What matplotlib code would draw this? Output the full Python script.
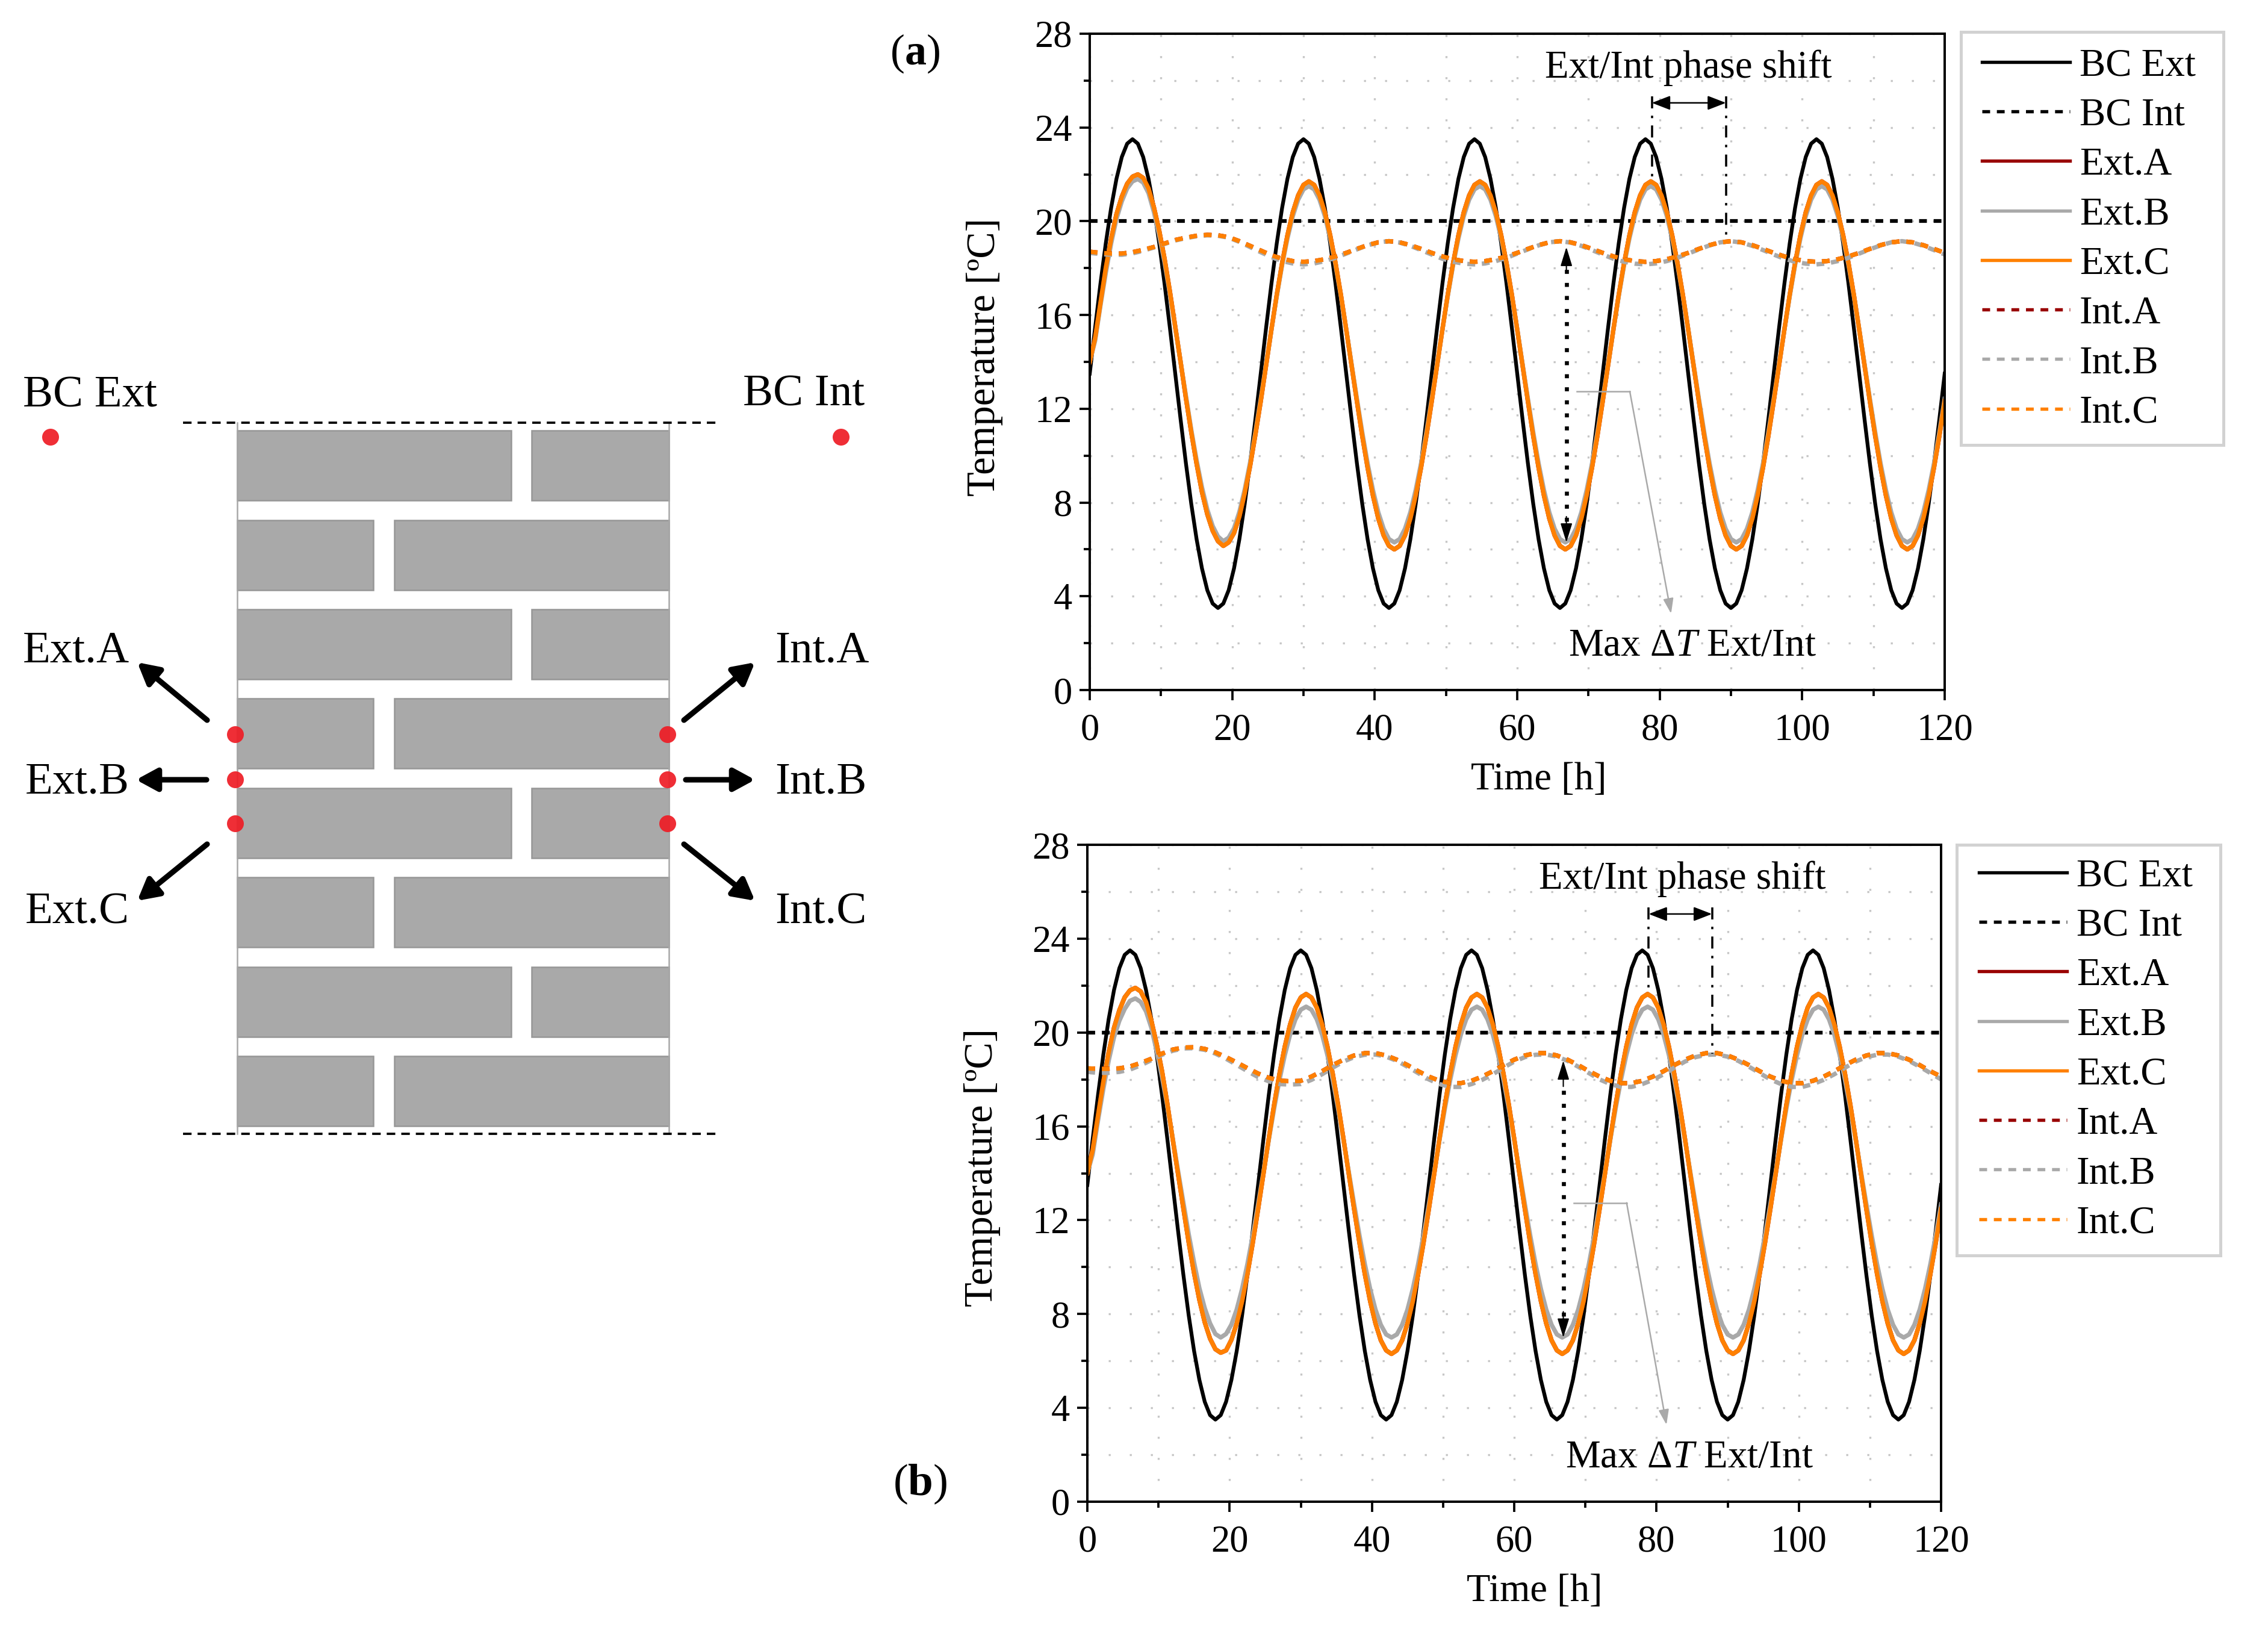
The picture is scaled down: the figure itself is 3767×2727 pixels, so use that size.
import numpy as np
import matplotlib
matplotlib.use('Agg')
import matplotlib.pyplot as plt
from matplotlib.patches import Rectangle, Circle

plt.rcParams['font.family'] = ['Liberation Serif', 'DejaVu Serif']
plt.rcParams['mathtext.fontset'] = 'custom'
plt.rcParams['mathtext.rm'] = 'Liberation Serif'
plt.rcParams['mathtext.it'] = 'Liberation Serif:italic'
plt.rcParams['mathtext.bf'] = 'Liberation Serif:bold'
plt.rcParams['lines.scale_dashes'] = False

W, H = 3767, 2727

# values [degC]
# outer and wall-surface curves every 0.75 h, inner curves every 1.5 h
time_ext = np.arange(0, 120.1, 0.75)
time_int = np.arange(0, 120.1, 1.5)
time_lim = [0, 120]
bc_int = [20, 20]

bc_ext = [
    13.5, 15.45, 17.33, 19.06, 20.57, 21.81, 22.74, 23.31, 23.5, 23.31, 22.74, 21.81, 20.57, 19.06, 17.33, 15.45,
    13.5, 11.55, 9.67, 7.94, 6.43, 5.19, 4.26, 3.69, 3.5, 3.69, 4.26, 5.19, 6.43, 7.94, 9.67, 11.55,
    13.5, 15.45, 17.33, 19.06, 20.57, 21.81, 22.74, 23.31, 23.5, 23.31, 22.74, 21.81, 20.57, 19.06, 17.33, 15.45,
    13.5, 11.55, 9.67, 7.94, 6.43, 5.19, 4.26, 3.69, 3.5, 3.69, 4.26, 5.19, 6.43, 7.94, 9.67, 11.55,
    13.5, 15.45, 17.33, 19.06, 20.57, 21.81, 22.74, 23.31, 23.5, 23.31, 22.74, 21.81, 20.57, 19.06, 17.33, 15.45,
    13.5, 11.55, 9.67, 7.94, 6.43, 5.19, 4.26, 3.69, 3.5, 3.69, 4.26, 5.19, 6.43, 7.94, 9.67, 11.55,
    13.5, 15.45, 17.33, 19.06, 20.57, 21.81, 22.74, 23.31, 23.5, 23.31, 22.74, 21.81, 20.57, 19.06, 17.33, 15.45,
    13.5, 11.55, 9.67, 7.94, 6.43, 5.19, 4.26, 3.69, 3.5, 3.69, 4.26, 5.19, 6.43, 7.94, 9.67, 11.55,
    13.5, 15.45, 17.33, 19.06, 20.57, 21.81, 22.74, 23.31, 23.5, 23.31, 22.74, 21.81, 20.57, 19.06, 17.33, 15.45,
    13.5, 11.55, 9.67, 7.94, 6.43, 5.19, 4.26, 3.69, 3.5, 3.69, 4.26, 5.19, 6.43, 7.94, 9.67, 11.55,
    13.5]

# panel (a)
ext_c_a = [
    14.0, 15.0, 16.5, 18.0, 19.25, 20.3, 21.05, 21.6, 21.9, 22.0, 21.85, 21.4, 20.6, 19.6, 18.4, 17.0,
    15.5, 14.0, 12.45, 11.0, 9.65, 8.45, 7.5, 6.8, 6.35, 6.15, 6.3, 6.7, 7.4, 8.4, 9.55, 10.9,
    12.32, 13.85, 15.38, 16.86, 18.21, 19.4, 20.38, 21.1, 21.55, 21.7, 21.55, 21.1, 20.38, 19.4, 18.21, 16.86,
    15.38, 13.85, 12.32, 10.84, 9.49, 8.3, 7.32, 6.6, 6.15, 6.0, 6.15, 6.6, 7.32, 8.3, 9.49, 10.84,
    12.32, 13.85, 15.38, 16.86, 18.21, 19.4, 20.38, 21.1, 21.55, 21.7, 21.55, 21.1, 20.38, 19.4, 18.21, 16.86,
    15.38, 13.85, 12.32, 10.84, 9.49, 8.3, 7.32, 6.6, 6.15, 6.0, 6.15, 6.6, 7.32, 8.3, 9.49, 10.84,
    12.32, 13.85, 15.38, 16.86, 18.21, 19.4, 20.38, 21.1, 21.55, 21.7, 21.55, 21.1, 20.38, 19.4, 18.21, 16.86,
    15.38, 13.85, 12.32, 10.84, 9.49, 8.3, 7.32, 6.6, 6.15, 6.0, 6.15, 6.6, 7.32, 8.3, 9.49, 10.84,
    12.32, 13.85, 15.38, 16.86, 18.21, 19.4, 20.38, 21.1, 21.55, 21.7, 21.55, 21.1, 20.38, 19.4, 18.21, 16.86,
    15.38, 13.85, 12.32, 10.84, 9.49, 8.3, 7.32, 6.6, 6.15, 6.0, 6.15, 6.6, 7.32, 8.3, 9.49, 10.84,
    12.32]
ext_b_a = [
    14.0, 14.9, 16.4, 17.8, 19.05, 20.1, 20.85, 21.4, 21.7, 21.8, 21.65, 21.2, 20.4, 19.4, 18.25, 16.9,
    15.45, 14.0, 12.55, 11.1, 9.8, 8.65, 7.7, 7.0, 6.55, 6.35, 6.5, 6.9, 7.6, 8.55, 9.7, 11.0,
    12.42, 13.9, 15.38, 16.81, 18.13, 19.27, 20.22, 20.92, 21.36, 21.5, 21.36, 20.92, 20.22, 19.27, 18.13, 16.81,
    15.38, 13.9, 12.42, 10.99, 9.67, 8.53, 7.58, 6.88, 6.44, 6.3, 6.44, 6.88, 7.58, 8.53, 9.67, 10.99,
    12.42, 13.9, 15.38, 16.81, 18.13, 19.27, 20.22, 20.92, 21.36, 21.5, 21.36, 20.92, 20.22, 19.27, 18.13, 16.81,
    15.38, 13.9, 12.42, 10.99, 9.67, 8.53, 7.58, 6.88, 6.44, 6.3, 6.44, 6.88, 7.58, 8.53, 9.67, 10.99,
    12.42, 13.9, 15.38, 16.81, 18.13, 19.27, 20.22, 20.92, 21.36, 21.5, 21.36, 20.92, 20.22, 19.27, 18.13, 16.81,
    15.38, 13.9, 12.42, 10.99, 9.67, 8.53, 7.58, 6.88, 6.44, 6.3, 6.44, 6.88, 7.58, 8.53, 9.67, 10.99,
    12.42, 13.9, 15.38, 16.81, 18.13, 19.27, 20.22, 20.92, 21.36, 21.5, 21.36, 20.92, 20.22, 19.27, 18.13, 16.81,
    15.38, 13.9, 12.42, 10.99, 9.67, 8.53, 7.58, 6.88, 6.44, 6.3, 6.44, 6.88, 7.58, 8.53, 9.67, 10.99,
    12.42]
ext_a_a = ext_c_a
int_c_a = [
    18.7, 18.65, 18.62, 18.62, 18.68, 18.78, 18.9, 19.05, 19.2, 19.3, 19.38, 19.42, 19.4, 19.32, 19.15, 18.95, 18.75, 18.55, 18.4, 18.3,
    18.27, 18.3, 18.38, 18.5, 18.65, 18.82, 18.98, 19.1, 19.15, 19.1, 18.98, 18.82, 18.65, 18.5, 18.38, 18.3,
    18.27, 18.3, 18.38, 18.5, 18.65, 18.82, 18.98, 19.1, 19.15, 19.1, 18.98, 18.82, 18.65, 18.5, 18.38, 18.3,
    18.27, 18.3, 18.38, 18.5, 18.65, 18.82, 18.98, 19.1, 19.15, 19.1, 18.98, 18.82, 18.65, 18.5, 18.38, 18.3,
    18.27, 18.3, 18.38, 18.5, 18.65, 18.82, 18.98, 19.1, 19.15, 19.1, 18.98, 18.82, 18.65]
int_b_a = [
    18.65, 18.6, 18.57, 18.57, 18.63, 18.74, 18.88, 19.03, 19.18, 19.28, 19.36, 19.4, 19.38, 19.3, 19.12, 18.9, 18.68, 18.47, 18.3, 18.2,
    18.16, 18.2, 18.3, 18.44, 18.62, 18.8, 18.97, 19.1, 19.15, 19.09, 18.95, 18.77, 18.58, 18.4, 18.27, 18.19,
    18.16, 18.2, 18.3, 18.44, 18.62, 18.8, 18.97, 19.1, 19.15, 19.09, 18.95, 18.77, 18.58, 18.4, 18.27, 18.19,
    18.16, 18.2, 18.3, 18.44, 18.62, 18.8, 18.97, 19.1, 19.15, 19.09, 18.95, 18.77, 18.58, 18.4, 18.27, 18.19,
    18.16, 18.2, 18.3, 18.44, 18.62, 18.8, 18.97, 19.1, 19.15, 19.09, 18.95, 18.77, 18.58]
int_a_a = int_c_a

# panel (b)
ext_c_b = [
    14.0, 15.0, 16.45, 17.9, 19.15, 20.2, 20.95, 21.5, 21.8, 21.9, 21.75, 21.3, 20.5, 19.5, 18.35, 16.95,
    15.45, 13.97, 12.5, 11.05, 9.75, 8.6, 7.65, 6.95, 6.5, 6.35, 6.45, 6.9, 7.6, 8.55, 9.7, 11.03,
    12.47, 13.97, 15.47, 16.91, 18.23, 19.39, 20.34, 21.06, 21.49, 21.64, 21.49, 21.06, 20.34, 19.39, 18.23, 16.91,
    15.47, 13.97, 12.47, 11.03, 9.71, 8.55, 7.6, 6.88, 6.45, 6.3, 6.45, 6.88, 7.6, 8.55, 9.71, 11.03,
    12.47, 13.97, 15.47, 16.91, 18.23, 19.39, 20.34, 21.06, 21.49, 21.64, 21.49, 21.06, 20.34, 19.39, 18.23, 16.91,
    15.47, 13.97, 12.47, 11.03, 9.71, 8.55, 7.6, 6.88, 6.45, 6.3, 6.45, 6.88, 7.6, 8.55, 9.71, 11.03,
    12.47, 13.97, 15.47, 16.91, 18.23, 19.39, 20.34, 21.06, 21.49, 21.64, 21.49, 21.06, 20.34, 19.39, 18.23, 16.91,
    15.47, 13.97, 12.47, 11.03, 9.71, 8.55, 7.6, 6.88, 6.45, 6.3, 6.45, 6.88, 7.6, 8.55, 9.71, 11.03,
    12.47, 13.97, 15.47, 16.91, 18.23, 19.39, 20.34, 21.06, 21.49, 21.64, 21.49, 21.06, 20.34, 19.39, 18.23, 16.91,
    15.47, 13.97, 12.47, 11.03, 9.71, 8.55, 7.6, 6.88, 6.45, 6.3, 6.45, 6.88, 7.6, 8.55, 9.71, 11.03,
    12.47]
ext_b_b = [
    14.0, 14.8, 16.25, 17.6, 18.8, 19.8, 20.5, 21.0, 21.35, 21.45, 21.3, 20.9, 20.2, 19.2, 18.1, 16.85,
    15.5, 14.1, 12.75, 11.4, 10.2, 9.1, 8.25, 7.6, 7.15, 7.0, 7.15, 7.55, 8.2, 9.07, 10.13, 11.35,
    12.67, 14.05, 15.42, 16.75, 17.97, 19.03, 19.91, 20.56, 20.97, 21.1, 20.97, 20.56, 19.91, 19.03, 17.97, 16.75,
    15.42, 14.05, 12.68, 11.35, 10.13, 9.07, 8.19, 7.54, 7.13, 7.0, 7.13, 7.54, 8.19, 9.07, 10.13, 11.35,
    12.67, 14.05, 15.42, 16.75, 17.97, 19.03, 19.91, 20.56, 20.97, 21.1, 20.97, 20.56, 19.91, 19.03, 17.97, 16.75,
    15.42, 14.05, 12.68, 11.35, 10.13, 9.07, 8.19, 7.54, 7.13, 7.0, 7.13, 7.54, 8.19, 9.07, 10.13, 11.35,
    12.67, 14.05, 15.42, 16.75, 17.97, 19.03, 19.91, 20.56, 20.97, 21.1, 20.97, 20.56, 19.91, 19.03, 17.97, 16.75,
    15.42, 14.05, 12.68, 11.35, 10.13, 9.07, 8.19, 7.54, 7.13, 7.0, 7.13, 7.54, 8.19, 9.07, 10.13, 11.35,
    12.67, 14.05, 15.42, 16.75, 17.97, 19.03, 19.91, 20.56, 20.97, 21.1, 20.97, 20.56, 19.91, 19.03, 17.97, 16.75,
    15.42, 14.05, 12.68, 11.35, 10.13, 9.07, 8.19, 7.54, 7.13, 7.0, 7.13, 7.54, 8.19, 9.07, 10.13, 11.35,
    12.67]
ext_a_b = ext_c_b
int_c_b = [
    18.47, 18.45, 18.45, 18.47, 18.55, 18.7, 18.88, 19.1, 19.27, 19.36, 19.37, 19.3, 19.15, 18.95, 18.72, 18.48, 18.25, 18.07, 17.95, 17.92,
    17.94, 18.12, 18.35, 18.61, 18.84, 19.02, 19.12, 19.12, 19.02, 18.84, 18.61, 18.35, 18.12, 17.94, 17.84, 17.84,
    17.94, 18.12, 18.35, 18.61, 18.84, 19.02, 19.12, 19.12, 19.02, 18.84, 18.61, 18.35, 18.12, 17.94, 17.84, 17.84,
    17.94, 18.12, 18.35, 18.61, 18.84, 19.02, 19.12, 19.12, 19.02, 18.84, 18.61, 18.35, 18.12, 17.94, 17.84, 17.84,
    17.94, 18.12, 18.35, 18.61, 18.84, 19.02, 19.12, 19.12, 19.02, 18.84, 18.61, 18.35, 18.12]
int_b_b = [
    18.32, 18.28, 18.28, 18.32, 18.42, 18.6, 18.82, 19.05, 19.22, 19.32, 19.33, 19.26, 19.1, 18.88, 18.62, 18.35, 18.1, 17.92, 17.8, 17.78,
    17.8, 17.98, 18.22, 18.5, 18.76, 18.95, 19.05, 19.06, 18.97, 18.79, 18.54, 18.27, 18.0, 17.8, 17.68, 17.68,
    17.8, 17.98, 18.22, 18.5, 18.76, 18.95, 19.05, 19.06, 18.97, 18.79, 18.54, 18.27, 18.0, 17.8, 17.68, 17.68,
    17.8, 17.98, 18.22, 18.5, 18.76, 18.95, 19.05, 19.06, 18.97, 18.79, 18.54, 18.27, 18.0, 17.8, 17.68, 17.68,
    17.8, 17.98, 18.22, 18.5, 18.76, 18.95, 19.05, 19.06, 18.97, 18.79, 18.54, 18.27, 18.0]
int_a_b = int_c_b

RED = '#990000'
GREY = '#a9a9a9'
ORANGE = '#ff8000'
DASH = (0, (3.1, 2.7))
DASHDOT = (0, (4.8, 2.9, 1.0, 2.9))


def px_axes(fig, left, top, right, bottom):
    return fig.add_axes([left / W, 1 - bottom / H, (right - left) / W, (bottom - top) / H])


def draw_panel(ax, series, phase, max_t, leg_xy):
    ext_a, ext_b, ext_c, int_a, int_b, int_c = series
    ax.plot(time_ext, bc_ext, color='k', lw=1.5, label='BC Ext')
    ax.plot(time_lim, bc_int, color='k', lw=1.5, ls=DASH, label='BC Int')
    ax.plot(time_ext, ext_a, color=RED, lw=1.75, label='Ext.A')
    ax.plot(time_ext, ext_b, color=GREY, lw=1.75, label='Ext.B')
    ax.plot(time_ext, ext_c, color=ORANGE, lw=1.75, label='Ext.C')
    ax.plot(time_int, int_a, color=RED, lw=1.75, ls=DASH, label='Int.A')
    ax.plot(time_int, int_b, color=GREY, lw=1.75, ls=DASH, label='Int.B')
    ax.plot(time_int, int_c, color=ORANGE, lw=1.75, ls=DASH, label='Int.C')

    ax.set_xlim(0, 120)
    ax.set_ylim(0, 28)
    ax.set_xticks(range(0, 121, 20))
    ax.set_xticks(range(10, 120, 20), minor=True)
    ax.set_yticks(range(0, 29, 4))
    ax.set_yticks(range(2, 28, 4), minor=True)
    ax.tick_params(which='major', labelsize=15, length=4, width=0.9)
    ax.tick_params(axis='x', which='major', pad=5.2)
    ax.tick_params(axis='y', which='major', pad=3)
    ax.tick_params(which='minor', length=2.4, width=0.9)
    ax.grid(which='both', color='#c6c6c6', lw=0.8, ls=(0, (0.8, 7.6)))
    ax.set_axisbelow(True)
    for s in ax.spines.values():
        s.set_linewidth(0.95)

    # phase shift marker
    x0, x1, y0, y1, xt = phase
    ax.text(xt, 26.55, 'Ext/Int phase shift', fontsize=15.6, ha='center', va='center')
    ax.plot([x0, x0], [25.33, y0], color='k', lw=0.85, ls=DASHDOT)
    ax.plot([x1, x1], [25.33, y1], color='k', lw=0.85, ls=DASHDOT)
    ax.annotate('', xy=(x1, 25.05), xytext=(x0, 25.05),
                arrowprops=dict(arrowstyle='<|-|>,head_length=0.62,head_width=0.24', color='k', lw=0.6,
                                shrinkA=0, shrinkB=0))

    # max delta T marker
    xm, top, bot, tip_x, tip_y = max_t
    ax.plot([xm, xm], [bot + 0.9, top - 0.9], color='k', lw=1.6, ls=(0, (1.6, 3.6)))
    for yt, yb in ((top, top - 1.1), (bot, bot + 1.1)):
        ax.annotate('', xy=(xm, yt), xytext=(xm, yb),
                    arrowprops=dict(arrowstyle='-|>,head_length=0.65,head_width=0.2', color='k', lw=0.5,
                                    shrinkA=0, shrinkB=0))
    ax.plot([68.4, 75.8], [12.74, 12.74], color=GREY, lw=0.6)
    ax.annotate('', xy=(tip_x, tip_y), xytext=(75.8, 12.74),
                arrowprops=dict(arrowstyle='-|>,head_length=0.5,head_width=0.17', color=GREY, lw=0.6,
                                shrinkA=0, shrinkB=0))
    ax.text(84.6, 1.87, 'Max \u0394$\\mathit{T}$ Ext/Int', fontsize=15.6, ha='center', va='center')

    leg = ax.legend(loc='upper left', bbox_to_anchor=(leg_xy[0] / W, 1 - leg_xy[1] / H),
                    bbox_transform=fig.transFigure, fontsize=15.6, frameon=False,
                    borderaxespad=0, borderpad=0, labelspacing=0.35,
                    handlelength=2.24, handletextpad=0.25)
    for line in leg.get_lines():
        line.set_linewidth(1.3)


fig = plt.figure(figsize=(W / 300, H / 300), dpi=300, facecolor='white')

# wall sketch and free labels, drawn in pixel coordinates of the figure
sk = fig.add_axes([0, 0, 1, 1])
sk.set_xlim(0, W)
sk.set_ylim(H, 0)
sk.axis('off')

row_tops = [715, 864, 1012, 1160, 1309, 1457, 1606, 1754]
for i, top in enumerate(row_tops):
    if i % 2 == 0:
        spans = [(394, 849), (883, 1111)]
    else:
        spans = [(394, 620), (655, 1111)]
    for a, b in spans:
        sk.add_patch(Rectangle((a, top), b - a, 116, facecolor='#a9a9a9', edgecolor='#979797', lw=0.6))
sk.plot([394, 394], [702, 1883], color='#a8a8a8', lw=0.6)
sk.plot([1111, 1111], [702, 1883], color='#a8a8a8', lw=0.6)
for y in (702, 1883):
    sk.plot([304, 1198], [y, y], color='k', lw=0.9, ls=(0, (3.4, 2.4)))

for x, y in [(84, 726), (1397, 726), (391, 1220), (391, 1295), (391, 1368),
             (1109, 1220), (1109, 1295), (1109, 1368)]:
    sk.add_patch(Circle((x, y), 14, facecolor='#ee1c25', edgecolor='none', alpha=0.92, zorder=4))

arrows = [((344, 1196), (228, 1100)), ((343, 1295), (226, 1295)), ((344, 1402), (228, 1496)),
          ((1136, 1196), (1254, 1100)), ((1139, 1295), (1254, 1295)), ((1136, 1402), (1254, 1496))]
for start, end in arrows:
    sk.annotate('', xy=end, xytext=start,
                arrowprops=dict(arrowstyle='-|>,head_length=0.7,head_width=0.38', color='k', lw=2.2,
                                shrinkA=0, shrinkB=0))

sketch_labels = [('BC Ext', 38, 675), ('BC Int', 1234, 673), ('Ext.A', 38, 1100), ('Ext.B', 42, 1317),
                 ('Ext.C', 42, 1534), ('Int.A', 1287, 1100), ('Int.B', 1287, 1317), ('Int.C', 1287, 1534)]
for txt, x, y in sketch_labels:
    sk.text(x, y, txt, fontsize=18, ha='left', va='baseline')

sk.text(1519, 89, '($\\mathbf{a}$)', fontsize=17.3, ha='center', va='center')
sk.text(1528, 2465, '($\\mathbf{b}$)', fontsize=18, ha='center', va='center')

# axis titles
sk.text(2556, 1295, 'Time [h]', fontsize=15.5, ha='center', va='center')
sk.text(2549, 2643, 'Time [h]', fontsize=15.5, ha='center', va='center')
sk.text(1636, 593, 'Temperature [\u00baC]', fontsize=16, rotation=90, ha='center', va='center')
sk.text(1631, 1939, 'Temperature [\u00baC]', fontsize=16, rotation=90, ha='center', va='center')

# legend frames
sk.add_patch(Rectangle((3257, 53), 436, 686, facecolor='white', edgecolor='#d2d2d2', lw=1.2))
sk.add_patch(Rectangle((3250, 1403), 438, 682, facecolor='white', edgecolor='#d2d2d2', lw=1.2))

ax_a = px_axes(fig, 1810, 56, 3230, 1146)
draw_panel(ax_a, (ext_a_a, ext_b_a, ext_c_a, int_a_a, int_b_a, int_c_a),
           (78.9, 89.3, 21.9, 19.2, 84.0), (66.9, 18.9, 6.3, 81.6, 3.26), (3292, 80))
ax_b = px_axes(fig, 1806, 1403, 3224, 2494)
draw_panel(ax_b, (ext_a_b, ext_b_b, ext_c_b, int_a_b, int_b_b, int_c_b),
           (78.9, 87.8, 21.7, 19.1, 83.6), (66.9, 18.8, 7.0, 81.4, 3.28), (3287, 1426))

fig.savefig('out.png', dpi=300)
